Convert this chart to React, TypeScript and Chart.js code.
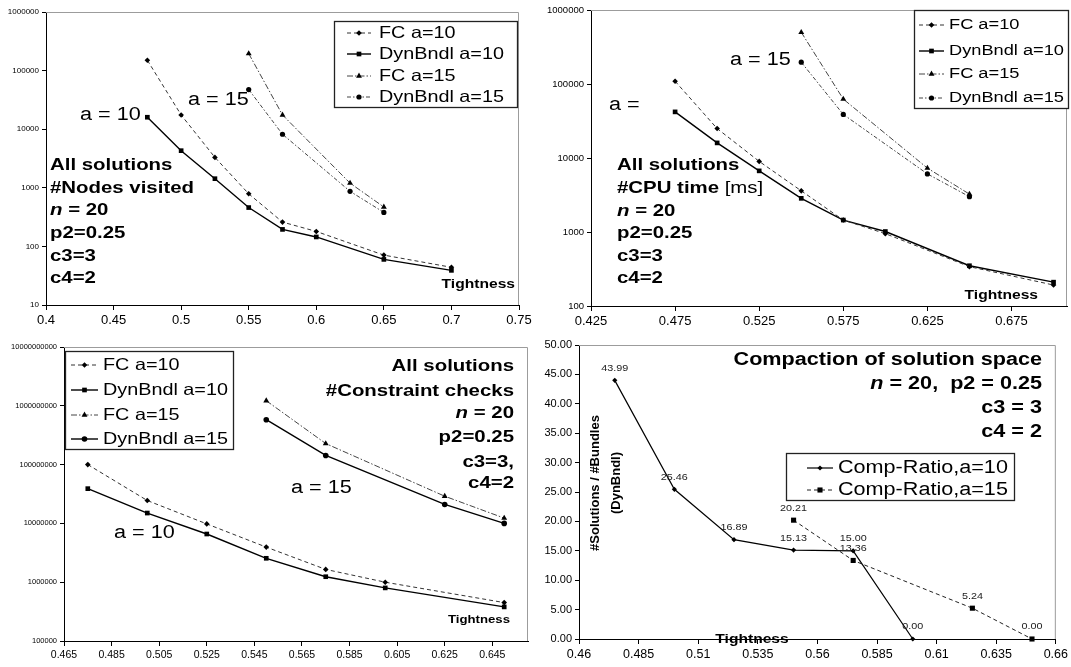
import React, { useEffect, useRef } from 'react';
import { Chart, registerables } from 'chart.js';

Chart.register(...registerables);

const FONT = '"Liberation Sans", Arial, Helvetica, sans-serif';

// ---------------- data ----------------
const tightA10 = [0.475, 0.5, 0.525, 0.55, 0.575, 0.6, 0.65, 0.7];
const tightA15 = [0.55, 0.575, 0.625, 0.65];

const nodesFC10 = [150000, 17500, 3300, 790, 260, 180, 71, 44];
const nodesDyn10 = [16000, 4300, 1430, 460, 195, 145, 60, 39];
const nodesFC15 = [195000, 17500, 1200, 470];
const nodesDyn15 = [47500, 8200, 870, 380];

const cpuFC10 = [109000, 25000, 9000, 3600, 1450, 950, 340, 192];
const cpuDyn10 = [42000, 16000, 6700, 2850, 1450, 1015, 350, 210];
const cpuFC15 = [500000, 62500, 7300, 3250];
const cpuDyn15 = [197000, 38800, 6100, 3000];

const tightChkA10 = [0.475, 0.5, 0.525, 0.55, 0.575, 0.6, 0.65];
const chkFC10 = [1.0e8, 2.45e7, 9.8e6, 3.95e6, 1.65e6, 1.0e6, 4.5e5];
const chkDyn10 = [3.9e7, 1.5e7, 6.6e6, 2.55e6, 1.24e6, 8.0e5, 3.8e5];
const chkFC15 = [1.22e9, 2.28e8, 2.9e7, 1.23e7];
const chkDyn15 = [5.8e8, 1.43e8, 2.1e7, 1.0e7];

const tightRatioA10 = [0.475, 0.5, 0.525, 0.55, 0.575, 0.6];
const ratioA10 = [43.99, 25.46, 16.89, 15.13, 15.0, 0.0];
const tightRatioA15 = [0.55, 0.575, 0.625, 0.65];
const ratioA15 = [20.21, 13.36, 5.24, 0.0];

// ---------------- ticks ----------------
const xTicksNodes = [0.4, 0.45, 0.5, 0.55, 0.6, 0.65, 0.7, 0.75];
const yTicksNodes = [10, 100, 1000, 10000, 100000, 1000000];
const xTicksCpu = [0.425, 0.475, 0.525, 0.575, 0.625, 0.675];
const yTicksCpu = [100, 1000, 10000, 100000, 1000000];
const xTicksChk = [0.465, 0.485, 0.505, 0.525, 0.545, 0.565, 0.585, 0.605, 0.625, 0.645];
const yTicksChk = [100000, 1000000, 10000000, 100000000, 1000000000, 10000000000];
const xTicksRatio = [0.46, 0.485, 0.51, 0.535, 0.56, 0.585, 0.61, 0.635, 0.66];
const yTicksRatio = [0, 5, 10, 15, 20, 25, 30, 35, 40, 45, 50];

const labelsMain = ['FC a=10', 'DynBndl a=10', 'FC a=15', 'DynBndl a=15'];
const labelsRatio = ['Comp-Ratio,a=10', 'Comp-Ratio,a=15'];

// ---------------- styles ----------------
type Style = { color: string; width: number; dash: number[]; point: string; r: number; mk: string };
const STYLES: Record<string, Style> = {
  fc10: { color: '#333', width: 1, dash: [4, 3], point: 'rectRot', r: 2.8, mk: 'diamond' },
  dyn10: { color: '#000', width: 1.4, dash: [], point: 'rect', r: 3.3, mk: 'square' },
  fc15: { color: '#444', width: 1, dash: [6, 2, 1.5, 2], point: 'triangle', r: 3.4, mk: 'triangle' },
  dyn15: { color: '#444', width: 1, dash: [4, 2, 1.5, 2], point: 'circle', r: 2.6, mk: 'circle' },
  dyn15s: { color: '#000', width: 1.4, dash: [], point: 'circle', r: 2.8, mk: 'circle' },
  ratio10: { color: '#000', width: 1.2, dash: [], point: 'rectRot', r: 2.6, mk: 'diamond' },
  ratio15: { color: '#222', width: 1, dash: [4, 3], point: 'rect', r: 3.6, mk: 'square' },
};

type Seg = { t: string; b?: boolean; i?: boolean };
type TextItem = { x: number; y: number; segs: Seg[]; size: number; align?: 'left' | 'right' | 'center'; sx?: number; color?: string };

const B = (t: string): Seg => ({ t, b: true });
const BI = (t: string): Seg => ({ t, b: true, i: true });
const R = (t: string): Seg => ({ t });

function drawRich(ctx: CanvasRenderingContext2D, it: TextItem) {
  const sx = it.sx ?? 1.2;
  const fonts = it.segs.map((s) => `${s.i ? 'italic ' : ''}${s.b ? 'bold ' : ''}${it.size}px ${FONT}`);
  const ws = it.segs.map((s, k) => {
    ctx.font = fonts[k];
    return ctx.measureText(s.t).width;
  });
  const total = ws.reduce((a, b) => a + b, 0) * sx;
  const align = it.align ?? 'left';
  const x0 = align === 'right' ? it.x - total : align === 'center' ? it.x - total / 2 : it.x;
  ctx.save();
  ctx.translate(x0, it.y);
  ctx.scale(sx, 1);
  ctx.textAlign = 'left';
  ctx.textBaseline = 'middle';
  ctx.fillStyle = it.color ?? '#000';
  let cx = 0;
  it.segs.forEach((s, k) => {
    ctx.font = fonts[k];
    ctx.fillText(s.t, cx, 0);
    cx += ws[k];
  });
  ctx.restore();
}

function drawMarker(ctx: CanvasRenderingContext2D, mk: string, x: number, y: number, r: number, color: string) {
  ctx.save();
  ctx.fillStyle = color;
  ctx.beginPath();
  if (mk === 'square') {
    const s = r * Math.SQRT1_2;
    ctx.rect(x - s, y - s, 2 * s, 2 * s);
  } else if (mk === 'diamond') {
    ctx.moveTo(x, y - r);
    ctx.lineTo(x + r, y);
    ctx.lineTo(x, y + r);
    ctx.lineTo(x - r, y);
    ctx.closePath();
  } else if (mk === 'triangle') {
    for (let k = 0; k < 3; k++) {
      const a = (k * 2 * Math.PI) / 3;
      const px = x + Math.sin(a) * r;
      const py = y - Math.cos(a) * r;
      if (k === 0) ctx.moveTo(px, py);
      else ctx.lineTo(px, py);
    }
    ctx.closePath();
  } else {
    ctx.arc(x, y, r, 0, Math.PI * 2);
  }
  ctx.fill();
  ctx.restore();
}

type Series = { label: string; x: number[]; y: number[]; style: string };
type Legend = { box: [number, number, number, number]; ys: number[]; s1: number; s2: number; tx: number; size: number };
type Panel = {
  left: number; top: number; W: number; H: number;
  area: { l: number; t: number; r: number; b: number };
  xMin: number; xMax: number; xTicks: number[]; xFont: number;
  yType: 'logarithmic' | 'linear'; yMin: number; yMax: number; yTicks: number[]; yFont: number; yFmt: (v: number) => string;
  series: Series[];
  texts: TextItem[];
  legend: Legend;
  dataLabels?: boolean;
  rotTitle?: { lines: string[]; xs: number[]; y: number; size: number };
};

const textsNodes: TextItem[] = [
  { x: 80, y: 115, segs: [R('a = 10')], size: 18 },
  { x: 188, y: 100, segs: [R('a = 15')], size: 18 },
  { x: 50, y: 165, segs: [B('All solutions')], size: 17 },
  { x: 50, y: 188, segs: [B('#Nodes visited')], size: 17 },
  { x: 50, y: 210, segs: [BI('n'), B(' = 20')], size: 17 },
  { x: 50, y: 233, segs: [B('p2=0.25')], size: 17 },
  { x: 50, y: 256, segs: [B('c3=3')], size: 17 },
  { x: 50, y: 278, segs: [B('c4=2')], size: 17 },
  { x: 515, y: 284, segs: [B('Tightness')], size: 13, align: 'right' },
];

const textsCpu: TextItem[] = [
  { x: 195, y: 60, segs: [R('a = 15')], size: 18 },
  { x: 74, y: 105, segs: [R('a =')], size: 18 },
  { x: 82, y: 165, segs: [B('All solutions')], size: 17 },
  { x: 82, y: 188, segs: [B('#CPU time'), R(' [ms]')], size: 17 },
  { x: 82, y: 211, segs: [BI('n'), B(' = 20')], size: 17 },
  { x: 82, y: 233, segs: [B('p2=0.25')], size: 17 },
  { x: 82, y: 256, segs: [B('c3=3')], size: 17 },
  { x: 82, y: 278, segs: [B('c4=2')], size: 17 },
  { x: 503, y: 295, segs: [B('Tightness')], size: 13, align: 'right' },
];

const textsChk: TextItem[] = [
  { x: 514, y: 36, segs: [B('All solutions')], size: 17, align: 'right' },
  { x: 514, y: 61, segs: [B('#Constraint checks')], size: 17, align: 'right' },
  { x: 514, y: 83, segs: [BI('n'), B(' = 20')], size: 17, align: 'right' },
  { x: 514, y: 107, segs: [B('p2=0.25')], size: 17, align: 'right' },
  { x: 514, y: 132, segs: [B('c3=3,')], size: 17, align: 'right' },
  { x: 514, y: 153, segs: [B('c4=2')], size: 17, align: 'right' },
  { x: 291, y: 158, segs: [R('a = 15')], size: 18 },
  { x: 114, y: 203, segs: [R('a = 10')], size: 18 },
  { x: 510, y: 290, segs: [B('Tightness')], size: 11, align: 'right' },
];

const textsRatio: TextItem[] = [
  { x: 507, y: 30, segs: [B('Compaction of solution space')], size: 18, align: 'right' },
  { x: 507, y: 54, segs: [BI('n'), B(' = 20,  p2 = 0.25')], size: 18, align: 'right' },
  { x: 507, y: 78, segs: [B('c3 = 3')], size: 18, align: 'right' },
  { x: 507, y: 102, segs: [B('c4 = 2')], size: 18, align: 'right' },
  { x: 217, y: 309, segs: [B('Tightness')], size: 13, align: 'center' },
];

const PANELS: Panel[] = [
  {
    left: 0, top: 0, W: 535, H: 330,
    area: { l: 46, t: 12, r: 519, b: 305 },
    xMin: 0.4, xMax: 0.75, xTicks: xTicksNodes, xFont: 13,
    yType: 'logarithmic', yMin: 10, yMax: 1000000, yTicks: yTicksNodes, yFont: 8, yFmt: (v) => String(v),
    series: [
      { label: labelsMain[0], x: tightA10, y: nodesFC10, style: 'fc10' },
      { label: labelsMain[1], x: tightA10, y: nodesDyn10, style: 'dyn10' },
      { label: labelsMain[2], x: tightA15, y: nodesFC15, style: 'fc15' },
      { label: labelsMain[3], x: tightA15, y: nodesDyn15, style: 'dyn15' },
    ],
    texts: textsNodes,
    legend: { box: [334, 21, 517, 107], ys: [33, 54, 76, 97], s1: 347, s2: 371, tx: 379, size: 16.5 },
  },
  {
    left: 535, top: 0, W: 536, H: 330,
    area: { l: 56, t: 10, r: 532, b: 306 },
    xMin: 0.425, xMax: 0.708, xTicks: xTicksCpu, xFont: 13,
    yType: 'logarithmic', yMin: 100, yMax: 1000000, yTicks: yTicksCpu, yFont: 9.5, yFmt: (v) => String(v),
    series: [
      { label: labelsMain[0], x: tightA10, y: cpuFC10, style: 'fc10' },
      { label: labelsMain[1], x: tightA10, y: cpuDyn10, style: 'dyn10' },
      { label: labelsMain[2], x: tightA15, y: cpuFC15, style: 'fc15' },
      { label: labelsMain[3], x: tightA15, y: cpuDyn15, style: 'dyn15' },
    ],
    texts: textsCpu,
    legend: { box: [379, 10, 533, 108], ys: [25, 51, 74, 98], s1: 384, s2: 409, tx: 414, size: 15.2 },
  },
  {
    left: 0, top: 330, W: 535, H: 337,
    area: { l: 64, t: 17, r: 528, b: 311 },
    xMin: 0.465, xMax: 0.66, xTicks: xTicksChk, xFont: 10.5,
    yType: 'logarithmic', yMin: 100000, yMax: 10000000000, yTicks: yTicksChk, yFont: 7.5, yFmt: (v) => String(v),
    series: [
      { label: labelsMain[0], x: tightChkA10, y: chkFC10, style: 'fc10' },
      { label: labelsMain[1], x: tightChkA10, y: chkDyn10, style: 'dyn10' },
      { label: labelsMain[2], x: tightA15, y: chkFC15, style: 'fc15' },
      { label: labelsMain[3], x: tightA15, y: chkDyn15, style: 'dyn15s' },
    ],
    texts: textsChk,
    legend: { box: [65, 21, 233, 119], ys: [35, 60, 85, 109], s1: 71, s2: 98, tx: 103, size: 16.5 },
  },
  {
    left: 535, top: 330, W: 536, H: 337,
    area: { l: 44, t: 15, r: 521, b: 309 },
    xMin: 0.46, xMax: 0.66, xTicks: xTicksRatio, xFont: 12.5,
    yType: 'linear', yMin: 0, yMax: 50, yTicks: yTicksRatio, yFont: 11, yFmt: (v) => v.toFixed(2),
    series: [
      { label: labelsRatio[0], x: tightRatioA10, y: ratioA10, style: 'ratio10' },
      { label: labelsRatio[1], x: tightRatioA15, y: ratioA15, style: 'ratio15' },
    ],
    texts: textsRatio,
    legend: { box: [251, 123, 479, 170], ys: [138, 160], s1: 272, s2: 298, tx: 303, size: 18 },
    dataLabels: true,
    rotTitle: { lines: ['#Solutions / #Bundles', '(DynBndl)'], xs: [60, 81], y: 153, size: 13 },
  },
];

function overlayPlugin(p: Panel) {
  return {
    id: 'overlay',
    beforeDatasetsDraw(chart: any) {
      const { ctx, chartArea: a } = chart;
      ctx.save();
      ctx.strokeStyle = '#9c9c9c';
      ctx.lineWidth = 1;
      ctx.beginPath();
      ctx.moveTo(a.left, a.top + 0.5);
      ctx.lineTo(a.right - 0.5, a.top + 0.5);
      ctx.lineTo(a.right - 0.5, a.bottom);
      ctx.stroke();
      ctx.restore();
    },
    afterDraw(chart: any) {
      const ctx: CanvasRenderingContext2D = chart.ctx;
      if (p.dataLabels) {
        p.series.forEach((s, di) => {
          const meta = chart.getDatasetMeta(di);
          meta.data.forEach((pt: any, j: number) => {
            drawRich(ctx, { x: pt.x, y: pt.y - 12, segs: [R(s.y[j].toFixed(2))], size: 9, align: 'center', color: '#222' });
          });
        });
      }
      p.texts.forEach((t) => drawRich(ctx, t));
      if (p.rotTitle) {
        const rt = p.rotTitle;
        rt.lines.forEach((ln, k) => {
          ctx.save();
          ctx.translate(rt.xs[k], rt.y);
          ctx.rotate(-Math.PI / 2);
          ctx.font = `bold ${rt.size}px ${FONT}`;
          ctx.fillStyle = '#000';
          ctx.textAlign = 'center';
          ctx.textBaseline = 'middle';
          ctx.fillText(ln, 0, 0);
          ctx.restore();
        });
      }
      const L = p.legend;
      ctx.save();
      ctx.fillStyle = '#fff';
      ctx.fillRect(L.box[0], L.box[1], L.box[2] - L.box[0], L.box[3] - L.box[1]);
      ctx.strokeStyle = '#222';
      ctx.lineWidth = 1.3;
      ctx.strokeRect(L.box[0] + 0.5, L.box[1] + 0.5, L.box[2] - L.box[0], L.box[3] - L.box[1]);
      ctx.restore();
      p.series.forEach((s, k) => {
        const st = STYLES[s.style];
        const y = L.ys[k];
        ctx.save();
        ctx.strokeStyle = st.color;
        ctx.lineWidth = st.width;
        ctx.setLineDash(st.dash);
        ctx.beginPath();
        ctx.moveTo(L.s1, y);
        ctx.lineTo(L.s2, y);
        ctx.stroke();
        ctx.restore();
        drawMarker(ctx, st.mk, (L.s1 + L.s2) / 2, y, st.r, '#000');
        drawRich(ctx, { x: L.tx, y, segs: [R(s.label)], size: L.size });
      });
    },
  };
}

function makeConfig(p: Panel): any {
  const a = p.area;
  return {
    type: 'line',
    data: {
      datasets: p.series.map((s) => {
        const st = STYLES[s.style];
        return {
          label: s.label,
          data: s.x.map((x, i) => ({ x, y: s.y[i] })),
          borderColor: st.color,
          borderWidth: st.width,
          borderDash: st.dash,
          pointStyle: st.point,
          pointRadius: st.r,
          pointBackgroundColor: '#000',
          pointBorderColor: '#000',
          pointBorderWidth: 0,
          fill: false,
          tension: 0,
          clip: false,
        };
      }),
    },
    options: {
      responsive: false,
      animation: false,
      devicePixelRatio: 1,
      events: [],
      layout: { autoPadding: false, padding: { left: 0, top: a.t, right: p.W - a.r, bottom: 0 } },
      scales: {
        x: {
          type: 'linear',
          min: p.xMin,
          max: p.xMax,
          afterBuildTicks: (sc: any) => {
            sc.ticks = p.xTicks.map((v) => ({ value: v }));
          },
          afterFit: (sc: any) => {
            sc.height = p.H - a.b;
          },
          ticks: {
            autoSkip: false,
            maxRotation: 0,
            padding: 3,
            color: '#000',
            font: { family: FONT, size: p.xFont },
            callback: (v: number) => String(v),
          },
          grid: { drawOnChartArea: false, drawTicks: true, tickLength: 5, color: '#000' },
          border: { display: true, color: '#000', width: 1 },
        },
        y: {
          type: p.yType,
          min: p.yMin,
          max: p.yMax,
          afterBuildTicks: (sc: any) => {
            sc.ticks = p.yTicks.map((v) => ({ value: v }));
          },
          afterFit: (sc: any) => {
            sc.width = a.l;
          },
          ticks: {
            autoSkip: false,
            padding: 3,
            color: '#000',
            font: { family: FONT, size: p.yFont },
            callback: (v: number) => p.yFmt(v),
          },
          grid: { drawOnChartArea: false, drawTicks: true, tickLength: 4, color: '#000' },
          border: { display: true, color: '#000', width: 1 },
        },
      },
      plugins: { legend: { display: false }, tooltip: { enabled: false } },
    },
    plugins: [overlayPlugin(p)],
  };
}

export default function App() {
  const refs = useRef<(HTMLCanvasElement | null)[]>([]);
  useEffect(() => {
    const charts = PANELS.map((p, i) => new Chart(refs.current[i] as HTMLCanvasElement, makeConfig(p)));
    return () => charts.forEach((c) => c.destroy());
  }, []);
  return (
    <div style={{ position: 'absolute', left: 0, top: 0, width: 1071, height: 667, background: '#fff', overflow: 'hidden' }}>
      {PANELS.map((p, i) => (
        <canvas
          key={i}
          ref={(el) => {
            refs.current[i] = el;
          }}
          width={p.W}
          height={p.H}
          style={{ position: 'absolute', left: p.left, top: p.top, width: p.W, height: p.H }}
        />
      ))}
    </div>
  );
}
